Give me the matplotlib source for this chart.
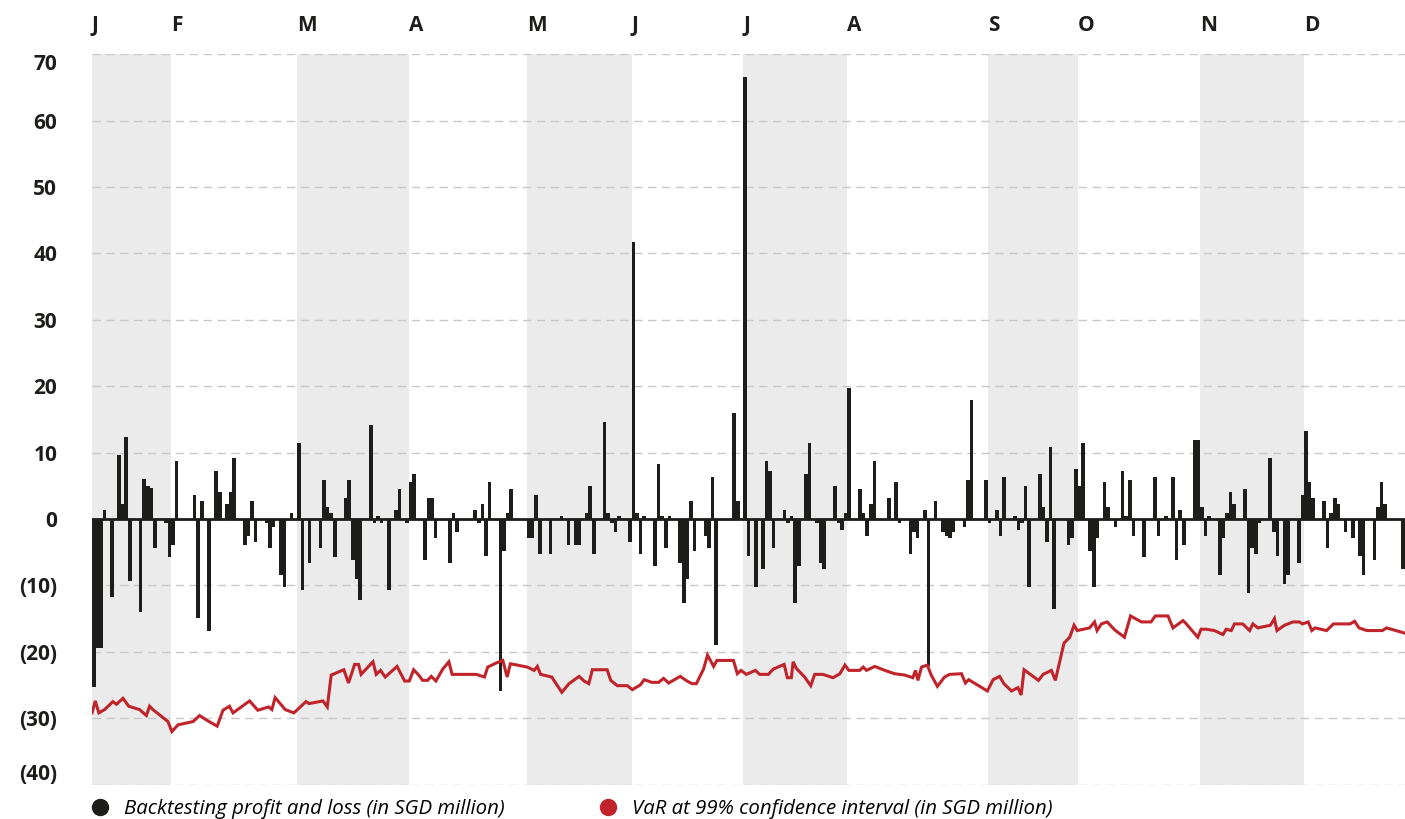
import matplotlib
matplotlib.use("Agg")
import matplotlib.pyplot as plt
from matplotlib.lines import Line2D

plt.rcParams['font.family'] = ['Open Sans', 'DejaVu Sans']

# month bands (letters and length of each band in days)
months = ['J', 'F', 'M', 'A', 'M', 'J', 'J', 'A', 'S', 'O', 'N', 'D']
month_days = [22, 35, 31, 33, 29, 31, 29, 39, 25, 34, 29, 28]
shaded_months = [0, 2, 4, 6, 8, 10]

# daily backtesting profit and loss (SGD million)
pnl_days = [0, 1, 2, 3, 5, 7, 8, 9, 10, 13, 14, 15, 16, 17, 20, 21, 22, 23, 28, 29,
            30, 32, 34, 35, 37, 38, 39, 42, 43, 44, 45, 48, 49, 50, 52, 53, 55, 57, 58, 60,
            63, 64, 65, 66, 67, 70, 71, 72, 73, 74, 77, 78, 79, 80, 82, 84, 85, 87, 88, 89,
            92, 93, 94, 95, 99, 100, 101, 106, 107, 108, 109, 110, 113, 114, 115, 116,
            121, 122, 123, 124, 127, 130, 132, 134, 135, 137, 138, 139, 142, 143, 144, 145, 146, 149,
            150, 151, 152, 153, 156, 157, 158, 159, 160, 163, 164, 165, 166, 167, 170, 171, 172, 173,
            178, 179, 181, 182, 184, 186, 187, 188, 189, 192, 193, 194, 195, 196, 198, 199,
            201, 202, 203, 206, 207, 208, 209, 210, 213, 214, 215, 216, 217, 221, 223, 224,
            227, 228, 229, 231, 232, 234, 236, 237, 238, 239, 242, 243, 244, 248, 249,
            251, 252, 253, 256, 257, 258, 259, 260, 263, 264, 265, 266, 267, 271, 272, 273,
            274, 275, 277, 278, 279, 281, 282, 284, 286, 287, 288, 289, 292, 295, 296, 298,
            300, 301, 302, 303, 306, 307, 308, 309, 310, 313, 314, 315, 316, 317, 320, 321,
            322, 323, 324, 327, 328, 329, 331, 332, 335, 336, 337, 338, 339, 342, 343, 344,
            345, 346, 348, 350, 352, 353, 356, 357, 358, 359, 364]
pnl_values = [-25.3, -19.5, -19.5, 1.4, -11.7, 9.6, 2.2, 12.4, -9.4, -14.0, 6.0, 5.0, 4.6, -4.4, -0.6, -5.7, -3.9, 8.7, 3.6, -14.9,
              2.7, -16.8, 7.3, 4.1, 2.3, 4.1, 9.2, -3.9, -2.5, 2.7, -3.4, -0.6, -4.4, -1.2, -8.5, -10.2, 0.9, 11.4, -10.7, -6.6,
              -4.4, 5.8, 1.8, 0.9, -5.7, 3.1, 5.8, -6.2, -9.1, -12.2, 14.1, -0.6, 0.4, -0.6, -10.7, 1.4, 4.5, -0.6, 5.5, 6.8,
              -6.1, 3.1, 3.1, -2.9, -6.6, 0.9, -2.0, 1.4, -0.6, 2.2, -5.6, 5.5, -25.9, -4.8, 0.9, 4.5,
              -2.9, -2.9, 3.6, -5.3, -5.3, 0.5, -3.9, -3.9, -3.9, 0.9, 5.0, -5.3, 14.6, 0.9, -0.6, -2.0, 0.5, -3.4,
              41.7, 0.9, -5.3, 0.5, -7.1, 8.3, 0.5, -4.3, 0.5, -6.6, -12.6, -9.0, 2.7, -4.8, -2.5, -4.3, 6.3, -19.0,
              16.0, 2.7, 66.6, -5.6, -10.2, -7.6, 8.7, 7.3, -4.3, 1.4, -0.6, 0.5, -12.6, -7.1, 6.8, 11.4,
              -0.6, -6.6, -7.6, 5.0, -0.6, -1.6, 0.9, 19.7, 4.5, 0.9, -2.5, 2.2, 8.7, 3.1, 5.5, -0.6,
              -5.3, -2.0, -2.9, 1.4, -22.2, 2.7, -2.0, -2.5, -2.9, -2.0, -1.2, 5.8, 17.9, 5.8, -0.6,
              1.4, -2.5, 6.3, 0.5, -1.6, -0.6, 5.0, -10.2, 6.8, 1.8, -3.4, 10.9, -13.5, -3.9, -2.9, 7.6,
              5.0, 11.4, -4.8, -10.2, -2.9, 5.5, 1.8, -1.2, 7.3, 0.5, 5.8, -2.5, -5.7, 6.3, -2.5, 0.5,
              6.3, -6.1, 1.4, -3.9, 11.9, 11.9, 1.8, -2.5, 0.5, -8.5, -2.9, 0.9, 4.1, 2.2, 4.5, -11.2,
              -4.3, -5.3, -0.6, 9.2, -2.0, -5.6, -9.8, -8.5, -6.6, 3.6, 13.2, 5.5, 3.1, 2.7, -4.3, 0.9,
              3.1, 2.2, -2.0, -2.9, -5.6, -8.5, -6.1, 1.8, 5.5, 2.2, -7.6]

# VaR at 99% confidence interval (SGD million)
var_days = [0, 0.9, 1.9, 3.5, 5.8, 6.8, 8.6, 10.2, 13.2, 15.1, 16, 16.9, 21.1, 22.2, 23.9, 28.1, 29.9,
            32.2, 34.8, 36.4, 38.2, 39.2, 43.8, 46.1, 49.1, 50, 50.9, 53.7, 56.1, 59.5, 60.3,
            64.2, 65.4, 66.5, 67.4, 70, 71.3, 73, 74.1, 74.8, 78.1, 79, 80.2, 81.5, 84.8, 86.9, 88.2, 89.4,
            90.8, 91.9, 93.3, 94.3, 95.6, 97.5, 99.2, 100.1, 106.8, 109.1, 110, 112.3, 114.2, 115.4, 116.3,
            121, 122.9, 123.8, 124.7, 127.8, 130.6, 132.6, 135.4, 136.8, 138.1, 139.1, 143.2, 144.2, 146,
            148.8, 150.2, 152.4, 153.5, 155.6, 157.5, 158.9, 160.3, 163.5, 165.4, 166.8, 168, 170, 171.1,
            172.8, 173.7, 178.3, 179.4, 180.4, 181.9, 184.4, 185.6, 188, 189.4, 192.4, 193.3, 194.4, 194.9,
            195.8, 198.1, 199.8, 200.9, 203.2, 206, 207.9, 209.3, 210.4, 213.4, 214.4, 215.3, 217.6,
            220.4, 223.1, 225.9, 228.2, 228.9, 229.6, 230.6, 232.2, 233.3, 235, 237, 238.4, 241.7,
            242.8, 243.7, 248.9, 250.5, 252.3, 253.5, 255.6, 257.4, 258.3, 259.1, 261.1, 263.1, 264.4,
            266.7, 267.8, 270.2, 271.8, 273, 273.9, 277.3, 278.7, 279.4, 280.6, 282.2, 284.3, 287,
            288.7, 291.7, 294.4, 295.6, 299.1, 300.5, 302, 303.3, 304.2, 307.4, 308.3, 309.7, 312,
            314.4, 315.3, 316.7, 317.6, 319.9, 321.8, 322.7, 324.1, 327.6, 328.7, 329.4, 331.5, 333.9,
            335.6, 336.5, 338.1, 339.1, 340, 343.2, 345.1, 349.7, 351, 352.2, 354.4, 358.7, 359.9, 365]
var_values = [-29.2, -27.4, -29.2, -28.7, -27.5, -27.9, -27.0, -28.2, -28.7, -29.6, -28.2, -28.7, -30.5, -32.0, -31.0, -30.5, -29.6,
              -30.4, -31.2, -28.8, -28.2, -29.2, -27.4, -28.8, -28.3, -28.7, -26.9, -28.7, -29.2, -27.5, -27.8,
              -27.4, -28.3, -23.5, -23.3, -22.7, -24.7, -21.9, -21.9, -23.4, -21.5, -23.4, -22.8, -23.8, -22.2, -24.4, -24.4, -22.7,
              -23.5, -24.3, -24.3, -23.7, -24.4, -22.6, -21.5, -23.4, -23.4, -23.8, -22.3, -21.7, -21.3, -23.8, -21.8,
              -22.3, -22.8, -22.2, -23.4, -23.8, -26.1, -24.8, -23.7, -24.4, -24.8, -22.7, -22.7, -24.3, -25.1,
              -25.1, -25.7, -25.0, -24.2, -24.6, -24.6, -24.0, -24.7, -23.7, -24.4, -24.8, -24.8, -22.6, -20.5,
              -22.2, -21.3, -21.3, -23.3, -22.8, -23.4, -22.8, -23.4, -23.4, -22.6, -21.9, -23.9, -23.9, -21.5,
              -22.5, -23.8, -25.1, -23.4, -23.4, -23.9, -23.3, -22.0, -22.8, -22.8, -22.3, -22.8, -22.2,
              -22.8, -23.3, -23.5, -23.9, -22.8, -24.3, -22.3, -22.0, -23.5, -25.2, -23.8, -23.4, -23.3,
              -24.7, -24.2, -25.9, -24.2, -23.7, -24.8, -25.9, -25.4, -26.5, -22.7, -23.5, -24.3, -23.4,
              -22.8, -24.3, -18.7, -17.8, -16.0, -16.8, -16.4, -15.5, -16.8, -15.8, -15.5, -16.7, -17.8,
              -14.6, -15.5, -15.5, -14.6, -14.6, -16.4, -15.8, -15.3, -15.8, -17.8, -16.6, -16.6, -16.8,
              -17.4, -16.6, -16.8, -15.8, -15.8, -16.8, -15.8, -16.4, -16.0, -15.0, -16.8, -16.0, -15.5,
              -15.5, -15.8, -15.5, -16.8, -16.4, -16.8, -15.8, -15.8, -15.4, -16.4, -16.8, -16.8, -16.4, -17.2]

y_ticks = [-40, -30, -20, -10, 0, 10, 20, 30, 40, 50, 60, 70]
y_labels = ['(40)', '(30)', '(20)', '(10)', '0', '10', '20', '30', '40', '50', '60', '70']

bar_color = '#1d1d1b'
var_color = '#c1232b'
band_color = '#ebebeb'

fig = plt.figure(figsize=(14.05, 8.19), dpi=100)
ax = fig.add_axes([0.0655, 0.042, 0.9345, 0.8918])

# month starts
month_starts = [sum(month_days[:i]) for i in range(len(month_days))]
total_days = sum(month_days)

for i in shaded_months:
    ax.axvspan(month_starts[i], month_starts[i] + month_days[i], color=band_color, lw=0, zorder=0)

ax.bar(pnl_days, pnl_values, width=1.0, align='edge', color=bar_color, lw=0, zorder=2)
ax.axhline(0, color=bar_color, lw=2, zorder=2.5)
ax.plot(var_days, var_values, color=var_color, lw=2.2, zorder=3, solid_joinstyle='miter')

ax.set_xlim(0, total_days)
ax.set_ylim(-40, 70)
ax.set_yticks(y_ticks)
ax.set_yticklabels(y_labels, fontsize=15, fontweight='bold', color=bar_color)
ax.set_xticks([])
ax.tick_params(axis='y', length=0, pad=25)
ax.get_yticklabels()[-1].set_verticalalignment('top')
ax.get_yticklabels()[0].set_verticalalignment('bottom')

ax.grid(axis='y', color='#c8c8c8', lw=1, linestyle=(0, (6, 4)), zorder=0.5)
ax.set_axisbelow(True)
for s in ax.spines.values():
    s.set_visible(False)

for name, start in zip(months, month_starts):
    ax.text(start, 1.04, name, transform=ax.get_xaxis_transform(), ha='left', va='center',
            fontsize=15, fontweight='bold', color=bar_color)

handles = [Line2D([], [], marker='o', color=bar_color, linestyle='none', markersize=11.5),
           Line2D([], [], marker='o', color=var_color, linestyle='none', markersize=11.5)]
labels = ['Backtesting profit and loss (in SGD million)', 'VaR at 99% confidence interval (in SGD million)']
ax.legend(handles, labels, loc='upper left', bbox_to_anchor=(90 / 1405, 1 - 799 / 819),
          bbox_transform=fig.transFigure, ncol=2, frameon=False, borderpad=0, borderaxespad=0,
          handlelength=1.0, handletextpad=0.65, columnspacing=4.6,
          prop={'style': 'italic', 'size': 14.7})

fig.savefig('out.png', dpi=100)
